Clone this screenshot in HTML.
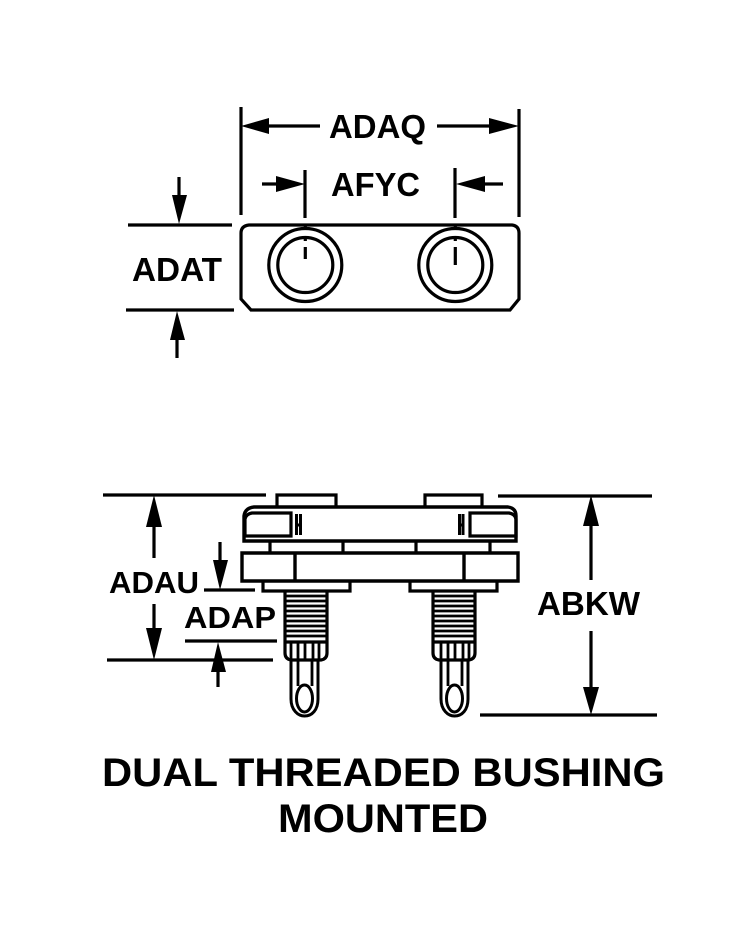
<!DOCTYPE html>
<html>
<head>
<meta charset="utf-8">
<style>
html,body{margin:0;padding:0;background:#fff}
svg{display:block}
text{font-family:"Liberation Sans",sans-serif;font-weight:bold;fill:#000}
</style>
</head>
<body>
<svg width="755" height="936" viewBox="0 0 755 936" xmlns="http://www.w3.org/2000/svg">
<defs>
<g id="pinhead" fill="none" stroke="#000">
  <path d="M7 642V660M14 642V660M21 642V660M29 642V660M35 642V660" stroke-width="2.800"/>
  <path d="M7 660V699C7 710 14 716 20.500 716C28 716 34 710 34 699V660" stroke-width="3"/>
  <path d="M14 660V686M28 660V686" stroke-width="2.800"/>
  <ellipse cx="20.500" cy="698.500" rx="8" ry="13.500" stroke-width="3"/>
</g>
</defs>

<g fill="none" stroke="#000" stroke-width="3.200">
  <!-- top view -->
  <path d="M241 107V215M519 109V217M305 170V218M455 168V218"/>
  <path d="M268 126H320M437 126H490M262 184H280M484 184H503"/>
  <path d="M128 225H232M126 310H234M179 177V200M177 335V358"/>
  <path d="M249 225H512Q519 226 519 233V299L510 310H251L241 299V233Q241 226 249 225Z"/>
  <circle cx="305.300" cy="265" r="36.500"/>
  <circle cx="305.300" cy="265" r="27.500"/>
  <circle cx="455.300" cy="265" r="36.500"/>
  <circle cx="455.300" cy="265" r="27.500"/>
  <path d="M305.300 225V229M455.300 225V229M305.300 238V241M455.300 238V241M305.300 247V259M455.300 247V265"/>

  <!-- side view dimensions -->
  <path d="M103 495H266M107 660H273M498 496H652M480 715H657"/>
  <path d="M154 520V558M154 604V635M591 520V580M591 631V690"/>
  <path d="M204 590H255M185 641H277M220 542V565M218 665V687"/>

  <!-- side view body -->
  <path d="M277 507V495H336V507M425 507V495H482V507"/>
  <path d="M244 541V516Q245 508 254 507H508Q516 508 516 516V541Z" stroke-width="3.400"/>
  <path d="M245 536V519Q246 514 252 513H291V536ZM516 536V519Q515 514 509 513H470V536Z"/>
  <path d="M270 541V553M343 541V553M416 541V553M490 541V553"/>
  <path d="M242 553H518V581H242ZM295 553V581M464 553V581" stroke-width="3.400"/>
  <path d="M263 581V591H350V581M410 581V591H497V581"/>
  <path d="M296.500 514V535M300.500 514V535M298 525H300M459.500 514V535M463 514V535M460 525H462" stroke-width="3"/>

  <!-- threads -->
  <path d="M285 591V653Q285 659 291 660H321Q327 659 327 653V591"/>
  <path d="M433 591V653Q433 659 439 660H469Q475 659 475 653V591"/>
  <path d="M285 642H327M433 642H475"/>
  <path d="M285 596H327M285 601H327M285 606H327M285 611H327M285 616H327M285 621H327M285 626H327M285 631H327M285 636H327" stroke-width="2.800"/>
  <path d="M433 596H475M433 601H475M433 606H475M433 611H475M433 616H475M433 621H475M433 626H475M433 631H475M433 636H475" stroke-width="2.800"/>
</g>
<use href="#pinhead" x="284"/>
<use href="#pinhead" x="434"/>

<g fill="#000">
  <!-- arrowheads -->
  <path d="M241 126L269 118V134ZM519 126L489 118V134ZM305 184L276 176V192ZM456 184L485 176V192"/>
  <path d="M179 224L172 195H187ZM177 311L170 340H185Z"/>
  <path d="M154 495L146 527H162ZM154 660L146 628H162ZM591 495L583 526H599ZM591 715L583 687H599Z"/>
  <path d="M220 590L213 560H228ZM218 642L211 672H226Z"/>
</g>

<text x="329" y="138" font-size="33" textLength="97" lengthAdjust="spacingAndGlyphs">ADAQ</text>
<text x="331" y="196" font-size="33" textLength="89" lengthAdjust="spacingAndGlyphs">AFYC</text>
<text x="132" y="281" font-size="33" textLength="90" lengthAdjust="spacingAndGlyphs">ADAT</text>
<text x="109" y="593" font-size="31" textLength="90" lengthAdjust="spacingAndGlyphs">ADAU</text>
<text x="184" y="628" font-size="31" textLength="92" lengthAdjust="spacingAndGlyphs">ADAP</text>
<text x="537" y="615" font-size="33" textLength="103" lengthAdjust="spacingAndGlyphs">ABKW</text>
<text x="102" y="786" font-size="40" textLength="563" lengthAdjust="spacingAndGlyphs">DUAL THREADED BUSHING</text>
<text x="278" y="832" font-size="40" textLength="210" lengthAdjust="spacingAndGlyphs">MOUNTED</text>
</svg>
</body>
</html>
